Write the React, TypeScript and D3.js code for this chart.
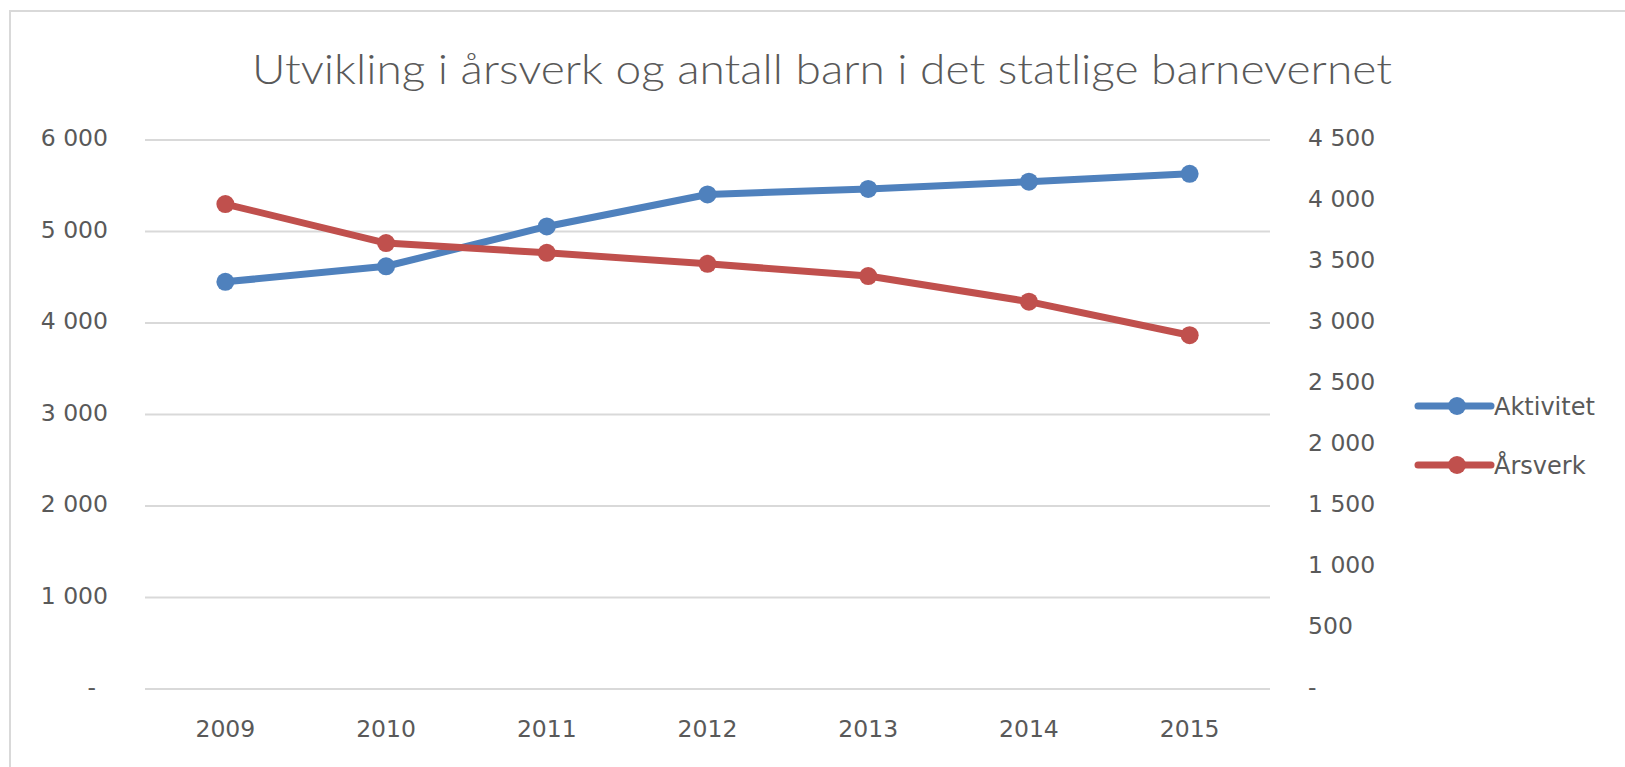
import React, { useRef, useEffect } from "react";
import * as d3 from "d3";

const years = ["2009", "2010", "2011", "2012", "2013", "2014", "2015"];
const aktivitet = [4450, 4620, 5055, 5405, 5465, 5545, 5630];
const arsverk = [3975, 3655, 3575, 3485, 3385, 3175, 2900];
const leftTicks = [0, 1000, 2000, 3000, 4000, 5000, 6000];
const rightTicks = [0, 500, 1000, 1500, 2000, 2500, 3000, 3500, 4000, 4500];
const seriesNames = ["Aktivitet", "Årsverk"];
const colors = ["#4F81BD", "#C0504D"];

const W = 1625;
const H = 767;
const font = "'DejaVu Sans', Verdana, sans-serif";

const fmt = (v: number) => (v === 0 ? "-" : d3.format(",")(v).replace(/,/g, " "));

const App = () => {
  const svgRef = useRef<SVGSVGElement>(null);

  useEffect(() => {
    const svg = d3.select(svgRef.current);
    svg.selectAll("*").remove();

    const left = 145;
    const right = 1270;
    const top = 140;
    const bottom = 689;

    // chart border (Excel chart area)
    svg.append("rect")
      .attr("x", 10).attr("y", 11)
      .attr("width", W).attr("height", H)
      .attr("fill", "#fff")
      .attr("stroke", "#d9d9d9")
      .attr("stroke-width", 2);

    svg.append("text")
      .attr("x", 822).attr("y", 84)
      .attr("text-anchor", "middle")
      .attr("font-family", "Lato, 'Open Sans', sans-serif")
      .attr("font-weight", 300)
      .attr("font-size", 41)
      .attr("fill", "#595959")
      .attr("textLength", 1140)
      .attr("lengthAdjust", "spacingAndGlyphs")
      .text("Utvikling i årsverk og antall barn i det statlige barnevernet");

    const x = d3.scaleBand().domain(years).range([left, right]);
    const yL = d3.scaleLinear().domain([0, 6000]).range([bottom, top]);
    const yR = d3.scaleLinear().domain([0, 4500]).range([bottom, top]);

    // gridlines
    svg.append("g")
      .selectAll("line")
      .data(leftTicks)
      .enter()
      .append("line")
      .attr("x1", left).attr("x2", right)
      .attr("y1", (d) => yL(d)).attr("y2", (d) => yL(d))
      .attr("stroke", "#d9d9d9")
      .attr("stroke-width", 2);

    // left axis labels (zero shown as "-" with accounting padding)
    svg.append("g")
      .selectAll("text")
      .data(leftTicks)
      .enter()
      .append("text")
      .attr("x", (d) => (d === 0 ? 96 : 108))
      .attr("y", (d) => yL(d) - 2)
      .attr("dy", "0.36em")
      .attr("text-anchor", "end")
      .attr("font-family", font)
      .attr("font-size", 23.5)
      .attr("fill", "#595959")
      .text((d) => fmt(d));

    // right axis labels
    svg.append("g")
      .selectAll("text")
      .data(rightTicks)
      .enter()
      .append("text")
      .attr("x", 1308)
      .attr("y", (d) => yR(d) - 2)
      .attr("dy", "0.36em")
      .attr("font-family", font)
      .attr("font-size", 23.5)
      .attr("fill", "#595959")
      .text((d) => fmt(d));

    // x labels
    svg.append("g")
      .selectAll("text")
      .data(years)
      .enter()
      .append("text")
      .attr("x", (d) => x(d)! + x.bandwidth() / 2)
      .attr("y", 729)
      .attr("dy", "0.36em")
      .attr("text-anchor", "middle")
      .attr("font-family", font)
      .attr("font-size", 23.5)
      .attr("fill", "#595959")
      .text((d) => d);

    const series = [
      { vals: aktivitet, y: yL },
      { vals: arsverk, y: yR },
    ];

    series.forEach((s, i) => {
      const pts = s.vals.map((v, j) => [x(years[j])! + x.bandwidth() / 2, s.y(v)] as [number, number]);
      svg.append("path")
        .attr("d", d3.line()(pts))
        .attr("fill", "none")
        .attr("stroke", colors[i])
        .attr("stroke-width", 7)
        .attr("stroke-linejoin", "round")
        .attr("stroke-linecap", "round");
      svg.append("g")
        .selectAll("circle")
        .data(pts)
        .enter()
        .append("circle")
        .attr("cx", (d) => d[0])
        .attr("cy", (d) => d[1])
        .attr("r", 9)
        .attr("fill", colors[i]);
    });

    // legend
    const leg = svg.append("g");
    seriesNames.forEach((name, i) => {
      const ly = 406 + i * 59;
      leg.append("line")
        .attr("x1", 1418).attr("x2", 1491)
        .attr("y1", ly).attr("y2", ly)
        .attr("stroke", colors[i])
        .attr("stroke-width", 7)
        .attr("stroke-linecap", "round");
      leg.append("circle")
        .attr("cx", 1457).attr("cy", ly)
        .attr("r", 9)
        .attr("fill", colors[i]);
      leg.append("text")
        .attr("x", 1494).attr("y", ly)
        .attr("dy", "0.36em")
        .attr("font-family", font)
        .attr("font-size", 24)
        .attr("fill", "#595959")
        .text(name);
    });
  }, []);

  return (
    <svg
      ref={svgRef}
      width={W}
      height={H}
      style={{ position: "absolute", left: 0, top: 0, background: "#fff" }}
    ></svg>
  );
};

export default App;
